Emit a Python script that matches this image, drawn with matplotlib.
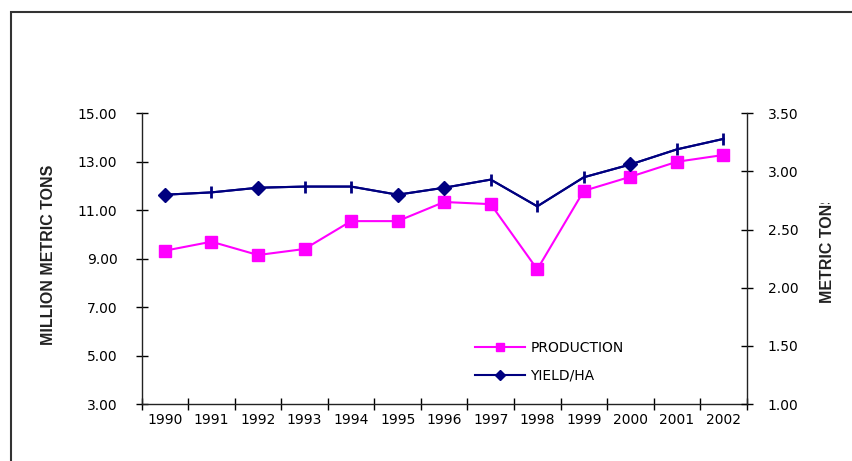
import matplotlib
matplotlib.use("Agg")
import matplotlib.pyplot as plt
from matplotlib.patches import Rectangle
from matplotlib.transforms import Bbox, TransformedBbox
import numpy as np

years = ["1990", "1991", "1992", "1993", "1994", "1995", "1996",
         "1997", "1998", "1999", "2000", "2001", "2002"]
production = [9.33, 9.70, 9.15, 9.40, 10.55, 10.55, 11.34,
              11.25, 8.56, 11.80, 12.38, 13.00, 13.28]
yield_ha = [2.80, 2.82, 2.86, 2.87, 2.87, 2.80, 2.86,
            2.93, 2.70, 2.95, 3.06, 3.19, 3.28]
left_ticks = [3, 5, 7, 9, 11, 13, 15]
right_ticks = [1.0, 1.5, 2.0, 2.5, 3.0, 3.5]

# the original renders some yield points as diamonds, others as bars
diamond_idx = [0, 2, 5, 6, 10]
bar_idx = [i for i in range(len(years)) if i not in diamond_idx]

PINK = "#FF00FF"
NAVY = "#000080"
TICK_FONT = dict(family="DejaVu Sans", size=10)

fig = plt.figure(figsize=(8.52, 4.61), dpi=100)
ax = fig.add_axes([0.1663, 0.1236, 0.7101, 0.6306])
ax2 = ax.twinx()

x = np.arange(len(years))

ax.plot(x, production, color=PINK, lw=1.5, marker="s", ms=8.5,
        mec=PINK, label="PRODUCTION", zorder=3)
ax2.plot(x, yield_ha, color=NAVY, lw=1.5, marker="|", ms=9, mew=2,
         markevery=bar_idx, zorder=3)
ax2.plot(x, yield_ha, color=NAVY, lw=1.5, marker="D", ms=7,
         markevery=diamond_idx, label="YIELD/HA", zorder=3)

ax.set_xlim(-0.5, len(years) - 0.5)
ax.set_ylim(3, 15)
ax2.set_ylim(1.0, 3.5)

# category boundaries get tick marks, labels sit in the middle
ax.set_xticks(np.arange(-0.5, len(years), 1.0))
ax.set_xticklabels([])
ax.set_xticks(x, minor=True)
ax.set_xticklabels(years, minor=True, **TICK_FONT)
ax.tick_params(axis="x", which="major", direction="inout", length=8, width=1)
ax.tick_params(axis="x", which="minor", length=0, pad=6.5)

ax.set_yticks(left_ticks)
ax.set_yticklabels([f"{v:.2f}" for v in left_ticks], **TICK_FONT)
ax.tick_params(axis="y", direction="inout", length=8, width=1, pad=13.5)

ax2.set_yticks(right_ticks)
ax2.set_yticklabels([f"{v:.2f}" for v in right_ticks], **TICK_FONT)
ax2.tick_params(axis="y", direction="inout", length=8, width=1, pad=11)

for a in (ax, ax2):
    a.spines["top"].set_visible(False)
    for s in a.spines.values():
        s.set_color("#222222")
        s.set_linewidth(1)
ax.spines["right"].set_visible(False)
ax2.spines["left"].set_visible(False)
ax2.spines["bottom"].set_visible(False)

LABEL_FONT = dict(family="Liberation Sans", fontweight="bold",
                  fontsize=11.5, color="#222222")
fig.text(48.5 / 852, 1 - 255 / 461, "MILLION METRIC TONS", rotation=90,
         ha="center", va="center", **LABEL_FONT)
right_label = fig.text(827 / 852, 1 - 248 / 461, "METRIC TONS", rotation=90,
                       ha="center", va="center", **LABEL_FONT)
# the original cuts this title off near the top
right_label.set_clip_box(TransformedBbox(
    Bbox([[0.9, 0.0], [1.0, 1 - 203 / 461]]), fig.transFigure))
right_label.set_clip_on(True)

h1, l1 = ax.get_legend_handles_labels()
h2, l2 = ax2.get_legend_handles_labels()
fig.legend(h1 + h2, l1 + l2, loc="center left",
           bbox_to_anchor=(475 / 852, 1 - 362 / 461), frameon=False,
           prop=TICK_FONT, handlelength=3.6, handletextpad=0.4,
           labelspacing=1.0, markerscale=0.7, borderpad=0,
           borderaxespad=0)

# outer chart border, runs off the right and bottom edges
fig.add_artist(Rectangle((11 / 852, -0.1), 1.2, 1 - 12 / 461 + 0.1,
                         transform=fig.transFigure, fill=False,
                         lw=1.5, ec="#333333", clip_on=False))

fig.savefig("out.png", dpi=100)
